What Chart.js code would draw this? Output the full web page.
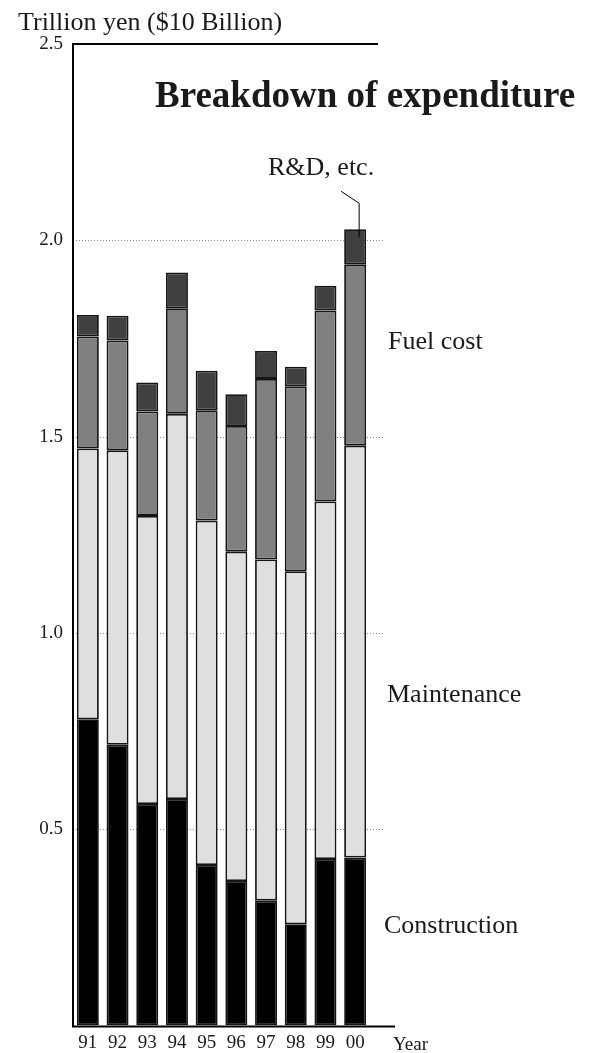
<!DOCTYPE html>
<html>
<head>
<meta charset="utf-8">
<script src="https://cdn.jsdelivr.net/npm/chart.js@4"></script>
<style>
  body { margin: 0; background: #fff; }
  #wrap { width: 593px; height: 1053px; position: relative; }
</style>
</head>
<body>
<div id="wrap"><canvas id="plots"></canvas></div>
<script>
// years on x, trillion yen stacked on y
var years = ['91', '92', '93', '94', '95', '96', '97', '98', '99', '00'];
var construction = [0.78, 0.715, 0.564, 0.577, 0.409, 0.368, 0.318, 0.258, 0.424, 0.428];
var maintenance  = [0.69, 0.75, 0.734, 0.981, 0.877, 0.839, 0.869, 0.899, 0.911, 1.049];
var fuelCost     = [0.285, 0.28, 0.266, 0.269, 0.281, 0.32, 0.46, 0.471, 0.486, 0.461];
var rndEtc       = [0.055, 0.063, 0.074, 0.091, 0.101, 0.081, 0.071, 0.05, 0.063, 0.09];
var yTicks = [0.5, 1.0, 1.5, 2.0, 2.5];

var serif = "'Liberation Serif', 'DejaVu Serif', serif";
var ink = '#1a1a1a';

function bar(label, data, color) {
  return {
    label: label,
    data: data,
    backgroundColor: color,
    borderColor: '#151515',
    borderWidth: 1.8,
    borderSkipped: false,
    barPercentage: 0.74,
    categoryPercentage: 1.0
  };
}

// dotted grid, axis frame, labels and the leader line
var extras = {
  id: 'extras',
  beforeDatasetsDraw: function(chart) {
    var ctx = chart.ctx, y = chart.scales.y, area = chart.chartArea;
    ctx.save();
    ctx.strokeStyle = '#8a8a8a';
    ctx.lineWidth = 1;
    ctx.setLineDash([1, 2]);
    yTicks.slice(0, 4).forEach(function(v) {
      var py = Math.round(y.getPixelForValue(v)) + 0.5;
      ctx.beginPath();
      ctx.moveTo(area.left + 3, py);
      ctx.lineTo(383, py);
      ctx.stroke();
    });
    ctx.restore();
  },
  afterDatasetsDraw: function(chart) {
    var ctx = chart.ctx, x = chart.scales.x, y = chart.scales.y, area = chart.chartArea;
    ctx.save();
    ctx.strokeStyle = '#000';
    ctx.lineWidth = 2;
    var top = y.getPixelForValue(2.5), base = y.getPixelForValue(0) + 1;
    ctx.beginPath();
    ctx.moveTo(area.left, base);
    ctx.lineTo(area.left, top - 1);
    ctx.moveTo(area.left - 1, top);
    ctx.lineTo(378, top);
    ctx.moveTo(area.left - 1, base);
    ctx.lineTo(395, base);
    ctx.stroke();

    // leader to the R&D segment of the last bar
    var last = years.length - 1;
    var total = construction[last] + maintenance[last] + fuelCost[last] + rndEtc[last];
    var lx = x.getPixelForValue(last) + 4;
    var ly = y.getPixelForValue(total);
    ctx.lineWidth = 1;
    ctx.beginPath();
    ctx.moveTo(lx - 18, ly - 38);
    ctx.lineTo(lx, ly - 26);
    ctx.lineTo(lx, ly + 8);
    ctx.stroke();

    ctx.fillStyle = ink;
    ctx.textBaseline = 'alphabetic';
    ctx.textAlign = 'left';
    ctx.font = '26px ' + serif;
    ctx.fillText('Trillion yen ($10 Billion)', 18, 30);
    ctx.fillText('R&D, etc.', 268, 175);
    ctx.fillText('Fuel cost', 388, 349);
    ctx.fillText('Maintenance', 387, 702);
    ctx.fillText('Construction', 384, 933);
    ctx.font = '19px ' + serif;
    ctx.fillText('Year', 393, 1050);
    ctx.font = 'bold 37px ' + serif;
    ctx.fillText('Breakdown of expenditure', 155, 107);
    ctx.restore();
  }
};

var ctx = document.getElementById('plots').getContext('2d');
var myChart = new Chart(ctx, {
  type: 'bar',
  data: {
    labels: years,
    datasets: [
      bar('Construction', construction, '#000000'),
      bar('Maintenance', maintenance, '#dfdfdf'),
      bar('Fuel cost', fuelCost, '#808080'),
      bar('R&D, etc.', rndEtc, '#404040')
    ]
  },
  plugins: [extras],
  options: {
    responsive: true,
    maintainAspectRatio: false,
    animation: false,
    layout: { padding: { left: 0, right: 223, top: 44, bottom: 0 } },
    plugins: {
      legend: { display: false },
      title: { display: false },
      tooltip: { enabled: false }
    },
    scales: {
      x: {
        stacked: true,
        grid: { display: false, drawTicks: false },
        border: { display: false },
        ticks: {
          color: ink,
          font: { family: serif, size: 19 },
          padding: 6,
          maxRotation: 0,
          autoSkip: false
        },
        afterFit: function(scale) { scale.height = 27.5; }
      },
      y: {
        stacked: true,
        min: 0,
        max: 2.5,
        grid: { display: false, drawTicks: false },
        border: { display: false },
        ticks: {
          stepSize: 0.5,
          color: ink,
          font: { family: serif, size: 19 },
          padding: 10,
          callback: function(v) { return v === 0 ? '' : v.toFixed(1); }
        },
        afterFit: function(scale) { scale.width = 73; }
      }
    }
  }
});
</script>
</body>
</html>
